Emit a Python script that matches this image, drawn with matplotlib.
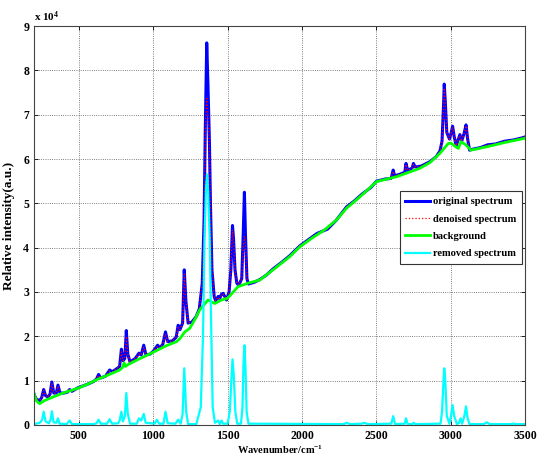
import matplotlib
matplotlib.use("Agg")
import matplotlib.pyplot as plt

# values, intensity in units of 1e4
wn_orig = [200, 215, 238, 252, 265, 278, 295, 308, 320, 333, 350, 361, 375, 400, 425, 439, 455,
           495, 560, 600, 620, 634, 648, 680, 708, 725, 760, 775, 787, 798, 810, 820, 830, 845,
           880, 905, 920, 937, 952, 980, 1000, 1020, 1030, 1045, 1065, 1083, 1098, 1130, 1155,
           1168, 1180, 1198, 1209, 1220, 1235, 1260, 1290, 1310, 1330, 1342, 1350, 1360, 1368,
           1378, 1385, 1395, 1410, 1420, 1437, 1447, 1459, 1470, 1493, 1510, 1522, 1533, 1540,
           1550, 1562, 1575, 1595, 1605, 1613, 1620, 1630, 1640, 1680, 1716, 1760, 1805, 1860,
           1918, 1985, 2050, 2100, 2172, 2230, 2299, 2350, 2400, 2463, 2500, 2560, 2597, 2605,
           2612, 2622, 2660, 2690, 2698, 2710, 2740, 2748, 2760, 2800, 2859, 2900, 2926, 2940,
           2950, 2955, 2962, 2972, 2990, 3002, 3011, 3022, 3035, 3050, 3060, 3072, 3090, 3101,
           3112, 3125, 3145, 3200, 3246, 3300, 3358, 3420, 3470, 3500]
orig = [0.70, 0.58, 0.55, 0.62, 0.80, 0.66, 0.63, 0.70, 0.97, 0.72, 0.72, 0.90, 0.72, 0.72, 0.74,
        0.80, 0.76, 0.84, 0.92, 0.98, 1.04, 1.14, 1.06, 1.10, 1.24, 1.20, 1.28, 1.32, 1.71, 1.45,
        1.50, 2.13, 1.60, 1.42, 1.50, 1.62, 1.58, 1.80, 1.58, 1.60, 1.66, 1.75, 1.80, 1.74, 1.82,
        2.10, 1.88, 1.90, 1.98, 2.25, 2.15, 2.30, 3.50, 2.80, 2.30, 2.32, 2.45, 2.62, 3.20, 4.60,
        6.60, 8.62, 7.70, 6.40, 5.00, 3.50, 2.90, 2.80, 2.90, 2.85, 2.95, 2.97, 2.82, 3.00, 3.50,
        4.50, 4.20, 3.50, 3.20, 3.15, 3.30, 4.30, 5.25, 4.30, 3.30, 3.18, 3.22, 3.28, 3.38, 3.52,
        3.66, 3.82, 4.04, 4.20, 4.32, 4.42, 4.62, 4.92, 5.05, 5.20, 5.36, 5.50, 5.55, 5.56, 5.65,
        5.75, 5.62, 5.66, 5.70, 5.90, 5.74, 5.80, 5.90, 5.82, 5.84, 5.94, 6.05, 6.18, 6.40, 7.20,
        7.69, 7.30, 6.60, 6.45, 6.60, 6.74, 6.50, 6.30, 6.45, 6.55, 6.40, 6.60, 6.77, 6.45, 6.20,
        6.22, 6.26, 6.32, 6.34, 6.40, 6.43, 6.47, 6.50]
denoised = [0.70, 0.58, 0.55, 0.62, 0.78, 0.66, 0.63, 0.70, 0.93, 0.72, 0.72, 0.88, 0.72, 0.72, 0.74,
            0.79, 0.76, 0.84, 0.92, 0.98, 1.04, 1.12, 1.06, 1.10, 1.22, 1.20, 1.28, 1.32, 1.65, 1.45,
            1.50, 2.00, 1.60, 1.42, 1.50, 1.60, 1.58, 1.76, 1.58, 1.60, 1.66, 1.74, 1.78, 1.74, 1.82,
            2.05, 1.88, 1.90, 1.98, 2.20, 2.15, 2.30, 3.40, 2.80, 2.30, 2.32, 2.45, 2.62, 3.20, 4.60,
            6.50, 7.40, 7.00, 6.30, 5.00, 3.50, 2.90, 2.80, 2.88, 2.85, 2.93, 2.95, 2.82, 3.00, 3.50,
            4.40, 4.15, 3.50, 3.20, 3.15, 3.30, 4.00, 4.25, 4.10, 3.30, 3.18, 3.22, 3.28, 3.38, 3.52,
            3.66, 3.82, 4.04, 4.20, 4.32, 4.42, 4.62, 4.92, 5.05, 5.20, 5.36, 5.50, 5.55, 5.56, 5.65,
            5.72, 5.62, 5.66, 5.70, 5.88, 5.74, 5.80, 5.88, 5.82, 5.84, 5.94, 6.05, 6.18, 6.40, 7.15,
            7.60, 7.30, 6.60, 6.45, 6.60, 6.72, 6.50, 6.30, 6.45, 6.53, 6.40, 6.60, 6.75, 6.45, 6.20,
            6.22, 6.26, 6.32, 6.34, 6.40, 6.43, 6.47, 6.50]

wn_bg = [200, 215, 238, 270, 305, 350, 394, 440, 495, 560, 619, 700, 775, 795, 805, 815, 830, 900,
         1000, 1090, 1157, 1180, 1213, 1246, 1280, 1313, 1369, 1414, 1459, 1500, 1570, 1638, 1716,
         1805, 1918, 1985, 2060, 2150, 2230, 2299, 2400, 2500, 2635, 2791, 2859, 2926, 2982, 3000,
         3038, 3050, 3067, 3100, 3134, 3246, 3358, 3500]
background = [0.72, 0.55, 0.48, 0.55, 0.60, 0.66, 0.72, 0.77, 0.83, 0.92, 1.02, 1.13, 1.24, 1.30,
              1.40, 1.32, 1.36, 1.48, 1.64, 1.79, 1.88, 1.95, 2.10, 2.18, 2.38, 2.60, 2.82, 2.74,
              2.82, 2.86, 3.12, 3.20, 3.27, 3.50, 3.80, 4.02, 4.20, 4.40, 4.62, 4.89, 5.18, 5.49,
              5.60, 5.79, 5.92, 6.13, 6.35, 6.36, 6.26, 6.24, 6.39, 6.32, 6.20, 6.28, 6.37, 6.47]

wn_removed = [200, 240, 255, 265, 278, 300, 312, 320, 332, 350, 361, 372, 420, 439, 455, 600, 620,
              634, 648, 690, 708, 725, 765, 775, 787, 797, 810, 820, 830, 845, 890, 905, 920, 937,
              950, 1010, 1025, 1040, 1070, 1083, 1098, 1150, 1168, 1185, 1198, 1209, 1222, 1235,
              1290, 1320, 1335, 1345, 1355, 1362, 1370, 1380, 1390, 1400, 1415, 1437, 1447, 1460,
              1470, 1500, 1515, 1525, 1533, 1542, 1552, 1565, 1590, 1600, 1607, 1613, 1620, 1628,
              1640, 2280, 2300, 2320, 2400, 2420, 2440, 2600, 2612, 2625, 2690, 2698, 2710, 2740,
              2750, 2760, 2930, 2940, 2950, 2955, 2962, 2972, 2990, 3000, 3011, 3022, 3040, 3055,
              3065, 3075, 3090, 3101, 3112, 3125, 3220, 3240, 3260, 3400, 3420, 3440, 3500]
removed = [0.02, 0.05, 0.12, 0.30, 0.08, 0.04, 0.12, 0.31, 0.06, 0.05, 0.15, 0.03, 0.02, 0.10,
           0.02, 0.02, 0.04, 0.12, 0.03, 0.03, 0.13, 0.03, 0.04, 0.10, 0.30, 0.08, 0.20, 0.72,
           0.25, 0.03, 0.03, 0.15, 0.10, 0.25, 0.05, 0.03, 0.12, 0.03, 0.03, 0.30, 0.04, 0.03,
           0.12, 0.03, 0.25, 1.28, 0.30, 0.02, 0.02, 0.40, 2.00, 4.20, 5.35, 5.65, 5.25, 4.20,
           2.20, 0.40, 0.05, 0.10, 0.02, 0.10, 0.03, 0.03, 0.30, 1.00, 1.48, 1.10, 0.30, 0.03,
           0.03, 0.40, 1.40, 1.80, 1.30, 0.30, 0.03, 0.02, 0.05, 0.02, 0.03, 0.05, 0.02, 0.03,
           0.20, 0.02, 0.03, 0.15, 0.02, 0.02, 0.05, 0.02, 0.03, 0.30, 1.00, 1.28, 1.00, 0.20,
           0.03, 0.20, 0.45, 0.20, 0.02, 0.05, 0.15, 0.03, 0.20, 0.42, 0.15, 0.02, 0.02, 0.06,
           0.02, 0.02, 0.03, 0.02, 0.02]

x_ticks = [500, 1000, 1500, 2000, 2500, 3000, 3500]
y_ticks = [0, 1, 2, 3, 4, 5, 6, 7, 8, 9]

SERIF = ['Liberation Serif', 'DejaVu Serif']
plt.rcParams['font.family'] = SERIF
plt.rcParams['font.weight'] = 'bold'
plt.rcParams['mathtext.fontset'] = 'custom'
plt.rcParams['mathtext.rm'] = 'Liberation Serif:bold'
plt.rcParams['mathtext.bf'] = 'Liberation Serif:bold'
plt.rcParams['mathtext.it'] = 'Liberation Serif:bold'


def plot_spectra():
    fig = plt.figure(figsize=(5.42, 4.62), dpi=100)
    ax = fig.add_axes([0.0627, 0.0801, 0.9067, 0.8636])

    ax.plot(wn_orig, orig, color='#0000ff', lw=2.2, label='original spectrum')
    ax.plot(wn_orig, denoised, color='#ff0000', lw=0.9, ls=':', label='denoised spectrum')
    ax.plot(wn_bg, background, color='#00ff00', lw=2.0, label='background')
    ax.plot(wn_removed, removed, color='#00ffff', lw=1.6, label='removed spectrum')

    ax.set_xlim(200, 3500)
    ax.set_ylim(0, 9)
    ax.set_xticks(x_ticks)
    ax.set_yticks(y_ticks)
    ax.tick_params(direction='in', top=True, right=True, labelsize=8.5, length=3, width=0.6)
    for lab in ax.get_xticklabels() + ax.get_yticklabels():
        lab.set_fontweight('bold')
    ax.grid(True, ls=':', color='#555555', lw=0.6)
    for sp in ax.spines.values():
        sp.set_color('#444444')
        sp.set_linewidth(0.8)

    ax.set_xlabel('Wavenumber/cm$^{-1}$', fontsize=7.5, fontweight='bold', labelpad=1)
    ax.set_ylabel('Relative intensity(a.u.)', fontsize=9.5, fontweight='bold', labelpad=6)
    ax.text(0.0, 1.005, r'x 10$^{4}$', transform=ax.transAxes, fontsize=8,
            fontweight='bold', ha='left', va='bottom')

    leg = ax.legend(loc='upper right', bbox_to_anchor=(0.993, 0.586), borderaxespad=0,
                    prop={'weight': 'bold', 'size': 7.6, 'family': SERIF},
                    fancybox=False, framealpha=1, edgecolor='#333333',
                    handlelength=2.3, handletextpad=0.3, borderpad=0.55, labelspacing=0.75)
    leg.get_frame().set_linewidth(0.8)

    fig.savefig('out.png', dpi=100)


if __name__ == "__main__":
    plot_spectra()
